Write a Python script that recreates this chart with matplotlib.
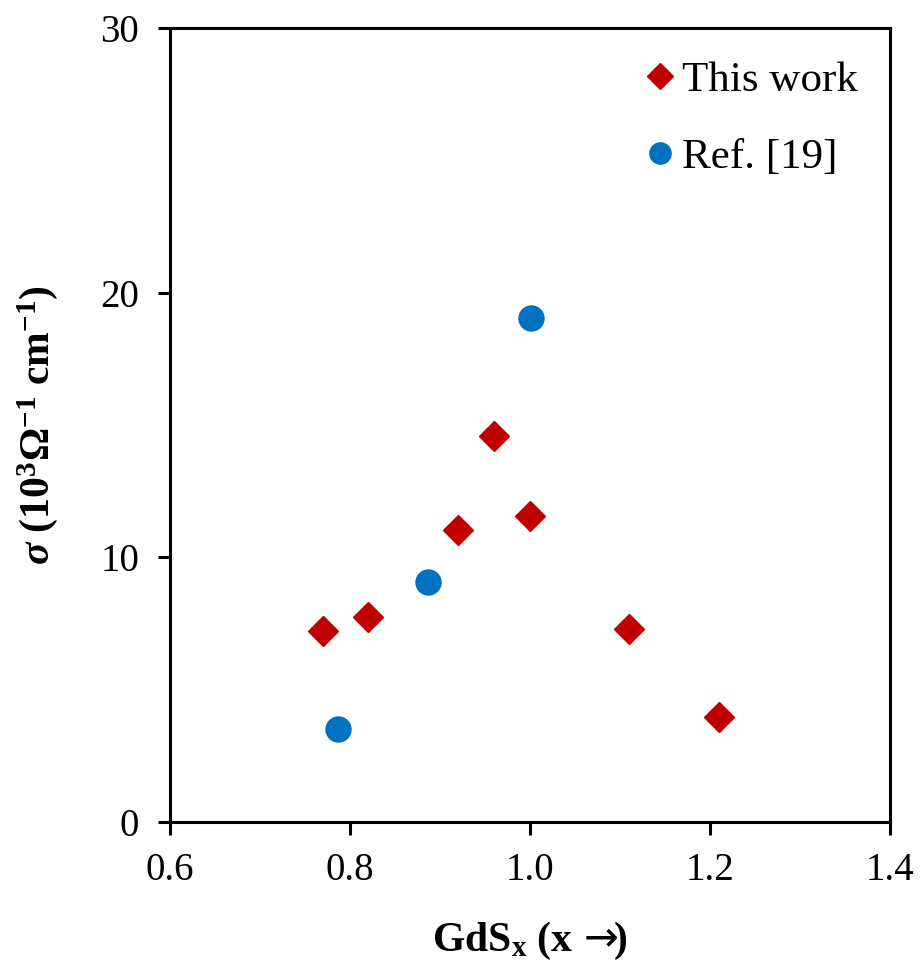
import matplotlib
matplotlib.use('Agg')
import matplotlib.pyplot as plt

# This work
x_work = [0.77, 0.82, 0.92, 0.96, 1.00, 1.11, 1.21]
y_work = [7.2, 7.75, 11.05, 14.6, 11.55, 7.3, 3.97]

# Ref. [19]
x_ref = [0.787, 0.887, 1.001]
y_ref = [3.5, 9.07, 19.05]

plt.rcParams['font.family'] = ['Liberation Serif', 'DejaVu Serif']
plt.rcParams['mathtext.fontset'] = 'custom'
plt.rcParams['mathtext.rm'] = 'Liberation Serif'
plt.rcParams['mathtext.it'] = 'Liberation Serif:italic'
plt.rcParams['mathtext.bf'] = 'Liberation Serif:bold'
plt.rcParams['mathtext.bfit'] = 'Liberation Serif:italic:bold'
plt.rcParams['mathtext.sf'] = 'DejaVu Sans'

fig = plt.figure(figsize=(9.23, 9.76), dpi=100)
ax = fig.add_axes([0.184, 0.158, 0.78, 0.813])

ax.plot(x_work, y_work, linestyle='none', marker='D', ms=15, color='#C00000',
        label='This work')
ax.plot(x_ref, y_ref, linestyle='none', marker='o', ms=18, color='#0070C0',
        label='Ref. [19]')

ax.set_xlim(0.6, 1.4)
ax.set_ylim(0, 30)
ax.set_xticks([0.6, 0.8, 1.0, 1.2, 1.4])
ax.set_xticklabels(['0.6', '0.8', '1.0', '1.2', '1.4'])
ax.set_yticks([0, 10, 20, 30])
ax.tick_params(direction='out', length=9, width=2.2, labelsize=28, pad=13)
for s in ax.spines.values():
    s.set_linewidth(2.2)

ax.set_xlabel(r'$\mathbf{GdS_x}$ (x $\mathsf{\!\rightarrow\!\!}$)', fontsize=30,
              fontweight='bold', labelpad=22)
ax.set_ylabel(r'$\mathbfit{\sigma}$ (10$^{\mathbf{3}}$Ω$^{\mathbf{-1}}$ cm$^{\mathbf{-1}}$)',
              fontsize=30, fontweight='bold')
ax.yaxis.set_label_coords(-0.152, 0.5)

ax.legend(loc='upper right', frameon=False, fontsize=31, handletextpad=0.0,
          labelspacing=0.88, borderaxespad=0.35, handlelength=1.0,
          markerscale=0.85)

fig.savefig('out.png', dpi=100)
